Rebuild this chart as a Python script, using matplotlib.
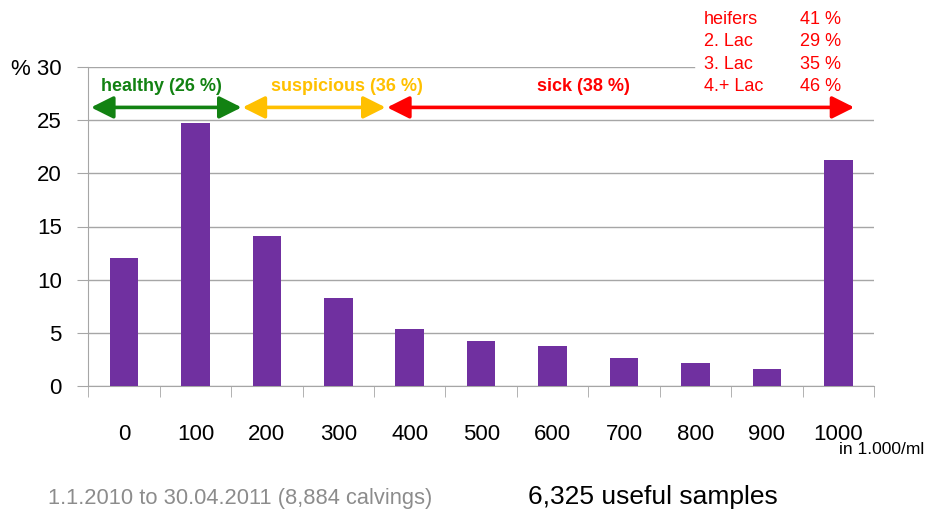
import matplotlib
matplotlib.use("Agg")
import matplotlib.pyplot as plt
from matplotlib.patches import FancyArrowPatch

plt.rcParams['font.family'] = ['Liberation Sans', 'DejaVu Sans']

categories = ['0', '100', '200', '300', '400', '500', '600', '700', '800', '900', '1000']
values = [12.0, 24.7, 14.1, 8.3, 5.4, 4.2, 3.8, 2.6, 2.2, 1.6, 21.3]
yticks = [0, 5, 10, 15, 20, 25, 30]
ytick_labels = ['0', '5', '10', '15', '20', '25', '% 30']
groups = ['healthy (26 %)', 'suspicious (36 %)', 'sick (38 %)']
group_colors = ['#128212', '#FFC000', '#FF0000']
group_spans = [(-0.462, 1.646), (1.660, 3.662), (3.683, 10.224)]
group_label_x = [0.525, 3.117, 6.436]
lac_names = ['heifers', '2. Lac', '3. Lac', '4.+ Lac']
lac_values = ['41 %', '29 %', '35 %', '46 %']

W, H = 928, 520
L, R, T, B = 88.3, 874, 67, 386
fig = plt.figure(figsize=(W/100, H/100), dpi=100)
ax = fig.add_axes([L/W, 1-B/H, (R-L)/W, (B-T)/H])

x = list(range(len(categories)))
ax.bar(x, values, width=0.4, color='#7030A0', zorder=3)

ax.set_xlim(-0.5, len(categories)-0.5)
ax.set_ylim(0, 30)
ax.set_yticks(yticks)
ax.set_yticklabels(ytick_labels, fontsize=16)
ax.tick_params(axis='y', length=8, color='#A6A6A6', pad=11)
for t in yticks:
    ax.axhline(t, xmin=0, xmax=(1.0 if t < 30 else (694-L)/(R-L)), color='#A6A6A6',
               linewidth=1, zorder=1)
for s in ['top', 'right']:
    ax.spines[s].set_visible(False)
ax.spines['left'].set_color('#A6A6A6')
ax.spines['bottom'].set_color('#A6A6A6')

ax.set_xticks(x)
ax.set_xticklabels(categories, fontsize=16)
ax.tick_params(axis='x', length=0, pad=27.5)
ax.set_xticks([i - 0.5 for i in range(len(categories)+1)], minor=True)
ax.tick_params(axis='x', which='minor', length=8, color='#A6A6A6')

for (x0, x1), c, lbl, lx in zip(group_spans, group_colors, groups, group_label_x):
    arr = FancyArrowPatch((x0, 26.2), (x1, 26.2), arrowstyle='<|-|>,head_length=0.9,head_width=0.45',
                          mutation_scale=15, color=c, linewidth=2.6, shrinkA=0, shrinkB=0,
                          zorder=6, clip_on=False)
    ax.add_patch(arr)
    ax.text(lx, 27.75, lbl, color=c, fontsize=13, fontweight='bold', ha='center',
            va='baseline', zorder=7)

baselines = [24, 46.3, 68.6, 91]
for n, v, by in zip(lac_names, lac_values, baselines):
    fig.text(704/W, 1-by/H, n, color='#FF0000', fontsize=13, ha='left', va='baseline')
    fig.text(800/W, 1-by/H, v, color='#FF0000', fontsize=13, ha='left', va='baseline')

fig.text(924/W, 1-454/H, 'in 1.000/ml', fontsize=12.5, ha='right', va='baseline')
fig.text(48/W, 1-504/H, '1.1.2010 to 30.04.2011 (8,884 calvings)', fontsize=15.75, color='#8C8C8C',
         ha='left', va='baseline')
fig.text(528/W, 1-504/H, '6,325 useful samples', fontsize=19, color='black', ha='left',
         va='baseline')

fig.savefig('out.png', dpi=100)
